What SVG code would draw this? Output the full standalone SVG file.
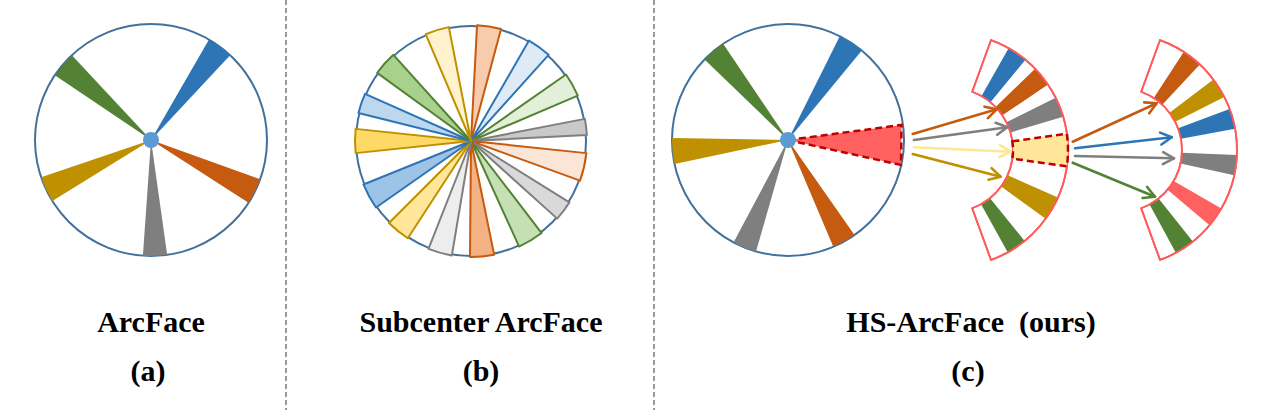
<svg xmlns="http://www.w3.org/2000/svg" xmlns:xlink="http://www.w3.org/1999/xlink" width="1288" height="417" viewBox="0 0 1288 417">
<style>
.ring{fill:#fff;stroke:#41719C;stroke-width:2}
.dot{fill:#5B9BD5}
.sw{stroke-width:2;stroke-linejoin:round}
.fan{fill:#fff;stroke:#FF5B5B;stroke-width:1.8}
.fanline{fill:none;stroke:#FF5B5B;stroke-width:1.8}
.dash{stroke:#C00000;stroke-width:2.5;stroke-dasharray:7 4}
.lbl{font-family:"Liberation Serif","Times New Roman",serif;font-weight:bold;font-size:30px;fill:#000;text-anchor:middle}
.div{stroke:#333;stroke-width:1;stroke-dasharray:5 3}
.arr{fill:none;stroke-width:2.6;stroke-linecap:round}
</style>
<defs>
<path id="w8" d="M0,0 L115.72,-8.09 A116,116 0 0 1 115.72,8.09 Z"/>
<path id="w10" d="M0,0 L115.56,-10.11 A116,116 0 0 1 115.56,10.11 Z"/>
<path id="w12" d="M0,0 L115.36,-12.13 A116,116 0 0 1 115.36,12.13 Z"/>
<path id="w13" d="M0,0 L115.25,-13.13 A116,116 0 0 1 115.25,13.13 Z"/>
<path id="w14" d="M0,0 L115.14,-14.14 A116,116 0 0 1 115.14,14.14 Z"/>
<path id="b10" d="M61.76,-5.40 L116.55,-10.20 A117,117 0 0 1 116.55,10.20 L61.76,5.40 A62,62 0 0 0 61.76,-5.40 Z"/>
<path id="b12" d="M61.66,-6.48 L116.36,-12.23 A117,117 0 0 1 116.36,12.23 L61.66,6.48 A62,62 0 0 0 61.66,-6.48 Z"/>
<path id="b16" d="M61.40,-8.63 L115.86,-16.28 A117,117 0 0 1 115.86,16.28 L61.40,8.63 A62,62 0 0 0 61.40,-8.63 Z"/>
<path id="fanshape" d="M21.21,-58.26 L40.02,-109.94 A117,117 0 0 1 40.02,109.94 L21.21,58.26 A62,62 0 0 0 21.21,-58.26 Z"/>
<marker id="mOr" markerUnits="userSpaceOnUse" markerWidth="20" markerHeight="20" viewBox="-14 -10 18 20" refX="0" refY="0" orient="auto"><path d="M-11,-6 L0,0 L-11,6" fill="none" stroke="#C55A11" stroke-width="2.6" stroke-linecap="round" stroke-linejoin="round"/></marker>
<marker id="mGr" markerUnits="userSpaceOnUse" markerWidth="20" markerHeight="20" viewBox="-14 -10 18 20" refX="0" refY="0" orient="auto"><path d="M-11,-6 L0,0 L-11,6" fill="none" stroke="#7F7F7F" stroke-width="2.6" stroke-linecap="round" stroke-linejoin="round"/></marker>
<marker id="mYe" markerUnits="userSpaceOnUse" markerWidth="20" markerHeight="20" viewBox="-14 -10 18 20" refX="0" refY="0" orient="auto"><path d="M-11,-6 L0,0 L-11,6" fill="none" stroke="#FFE699" stroke-width="2.6" stroke-linecap="round" stroke-linejoin="round"/></marker>
<marker id="mGo" markerUnits="userSpaceOnUse" markerWidth="20" markerHeight="20" viewBox="-14 -10 18 20" refX="0" refY="0" orient="auto"><path d="M-11,-6 L0,0 L-11,6" fill="none" stroke="#BF9000" stroke-width="2.6" stroke-linecap="round" stroke-linejoin="round"/></marker>
<marker id="mBl" markerUnits="userSpaceOnUse" markerWidth="20" markerHeight="20" viewBox="-14 -10 18 20" refX="0" refY="0" orient="auto"><path d="M-11,-6 L0,0 L-11,6" fill="none" stroke="#2E75B6" stroke-width="2.6" stroke-linecap="round" stroke-linejoin="round"/></marker>
<marker id="mGn" markerUnits="userSpaceOnUse" markerWidth="20" markerHeight="20" viewBox="-14 -10 18 20" refX="0" refY="0" orient="auto"><path d="M-11,-6 L0,0 L-11,6" fill="none" stroke="#548235" stroke-width="2.6" stroke-linecap="round" stroke-linejoin="round"/></marker>
</defs>
<rect width="1288" height="417" fill="#fff"/>

<g id="dividers">
<line class="div" x1="286" y1="0" x2="286" y2="410"/>
<line class="div" x1="654" y1="0" x2="654" y2="410"/>
</g>

<g id="arcface">
<circle class="ring" cx="151" cy="140" r="116"/>
<use href="#w13" transform="translate(151,140) rotate(-53.5)" fill="#2E75B6"/>
<use href="#w13" transform="translate(151,140) rotate(-139.5)" fill="#548235"/>
<use href="#w13" transform="translate(151,140) rotate(26.3)" fill="#C55A11"/>
<use href="#w13" transform="translate(151,140) rotate(154.8)" fill="#BF9000"/>
<use href="#w12" transform="translate(151,140) rotate(88)" fill="#7F7F7F"/>
<circle class="dot" cx="151" cy="140" r="8"/>
</g>

<g id="subcenter">
<circle class="ring" cx="471" cy="141" r="115"/>
<g class="sw">
<use href="#w12" transform="translate(471,141) rotate(-81)" fill="#F8CBAD" stroke="#C55A11"/>
<use href="#w12" transform="translate(471,141) rotate(-54)" fill="#DEEBF7" stroke="#2E75B6"/>
<use href="#w12" transform="translate(471,141) rotate(-29)" fill="#E2F0D9" stroke="#548235"/>
<use href="#w8" transform="translate(471,141) rotate(-7)" fill="#C9C9C9" stroke="#7F7F7F"/>
<use href="#w14" transform="translate(471,141) rotate(13)" fill="#FBE5D6" stroke="#C55A11"/>
<use href="#w10" transform="translate(471,141) rotate(37)" fill="#D9D9D9" stroke="#7F7F7F"/>
<use href="#w13" transform="translate(471,141) rotate(59)" fill="#C5E0B4" stroke="#548235"/>
<use href="#w12" transform="translate(471,141) rotate(84.5)" fill="#F4B183" stroke="#C55A11"/>
<use href="#w12" transform="translate(471,141) rotate(105.5)" fill="#EDEDED" stroke="#7F7F7F"/>
<use href="#w12" transform="translate(471,141) rotate(129)" fill="#FFE699" stroke="#BF9000"/>
<use href="#w13" transform="translate(471,141) rotate(151.5)" fill="#9DC3E6" stroke="#2E75B6"/>
<use href="#w12" transform="translate(471,141) rotate(180)" fill="#FFD966" stroke="#BF9000"/>
<use href="#w10" transform="translate(471,141) rotate(-161)" fill="#BDD7EE" stroke="#2E75B6"/>
<use href="#w12" transform="translate(471,141) rotate(-138)" fill="#A9D18E" stroke="#548235"/>
<use href="#w12" transform="translate(471,141) rotate(-107)" fill="#FFF2CC" stroke="#BF9000"/>
</g>
</g>

<g id="hs-circle">
<circle class="ring" cx="788" cy="140" r="116"/>
<use href="#w13" transform="translate(788,140) rotate(-57)" fill="#2E75B6"/>
<use href="#w12" transform="translate(788,140) rotate(-130)" fill="#548235"/>
<use href="#w13" transform="translate(788,140) rotate(174.5)" fill="#BF9000"/>
<use href="#w12" transform="translate(788,140) rotate(112)" fill="#7F7F7F"/>
<use href="#w12" transform="translate(788,140) rotate(61)" fill="#C55A11"/>
<path class="dash" d="M788,140 L901.5,125 L901,165 Z" fill="#FF6161"/>
<circle class="dot" cx="788" cy="140" r="8"/>
</g>

<g id="hs-fan1" transform="translate(951,150)">
<use href="#fanshape" class="fan"/>
<use href="#b10" transform="rotate(-55.5)" fill="#2E75B6"/>
<use href="#b10" transform="rotate(-39)" fill="#C55A11"/>
<use href="#b10" transform="rotate(-21.5)" fill="#7F7F7F"/>
<use href="#b12" transform="rotate(30)" fill="#BF9000"/>
<use href="#b10" transform="rotate(56)" fill="#548235"/>
<use href="#fanshape" class="fanline"/>
<use href="#b16" class="dash" fill="#FFE699"/>
</g>

<g id="hs-fan2" transform="translate(1120,150)">
<use href="#fanshape" class="fan"/>
<use href="#b10" transform="rotate(-52)" fill="#C55A11"/>
<use href="#b10" transform="rotate(-32)" fill="#BF9000"/>
<use href="#b10" transform="rotate(-15.5)" fill="#2E75B6"/>
<use href="#b10" transform="rotate(7.5)" fill="#7F7F7F"/>
<use href="#b10" transform="rotate(35)" fill="#FF6161"/>
<use href="#b10" transform="rotate(56.5)" fill="#548235"/>
<use href="#fanshape" class="fanline"/>
</g>

<g id="connectors">
<line class="arr" x1="912.7" y1="134" x2="996.7" y2="109.3" stroke="#C55A11" marker-end="url(#mOr)"/>
<line class="arr" x1="914" y1="140" x2="1007.3" y2="127.3" stroke="#7F7F7F" marker-end="url(#mGr)"/>
<line class="arr" x1="914" y1="147.3" x2="1010.7" y2="151.7" stroke="#FFE699" marker-end="url(#mYe)"/>
<line class="arr" x1="912.7" y1="154" x2="1000.7" y2="176.7" stroke="#BF9000" marker-end="url(#mGo)"/>
<line class="arr" x1="1072.7" y1="141.7" x2="1156.7" y2="103.3" stroke="#C55A11" marker-end="url(#mOr)"/>
<line class="arr" x1="1075" y1="148.3" x2="1171.7" y2="137.3" stroke="#2E75B6" marker-end="url(#mBl)"/>
<line class="arr" x1="1075" y1="156" x2="1174" y2="158.3" stroke="#7F7F7F" marker-end="url(#mGr)"/>
<line class="arr" x1="1072.7" y1="162.7" x2="1155" y2="196.7" stroke="#548235" marker-end="url(#mGn)"/>
</g>

<g id="labels">
<text class="lbl" x="151" y="332">ArcFace</text>
<text class="lbl" x="148" y="381">(a)</text>
<text class="lbl" x="481" y="332">Subcenter ArcFace</text>
<text class="lbl" x="481" y="381">(b)</text>
<text class="lbl" x="971" y="332" xml:space="preserve">HS-ArcFace  (ours)</text>
<text class="lbl" x="968" y="381">(c)</text>
</g>
</svg>
